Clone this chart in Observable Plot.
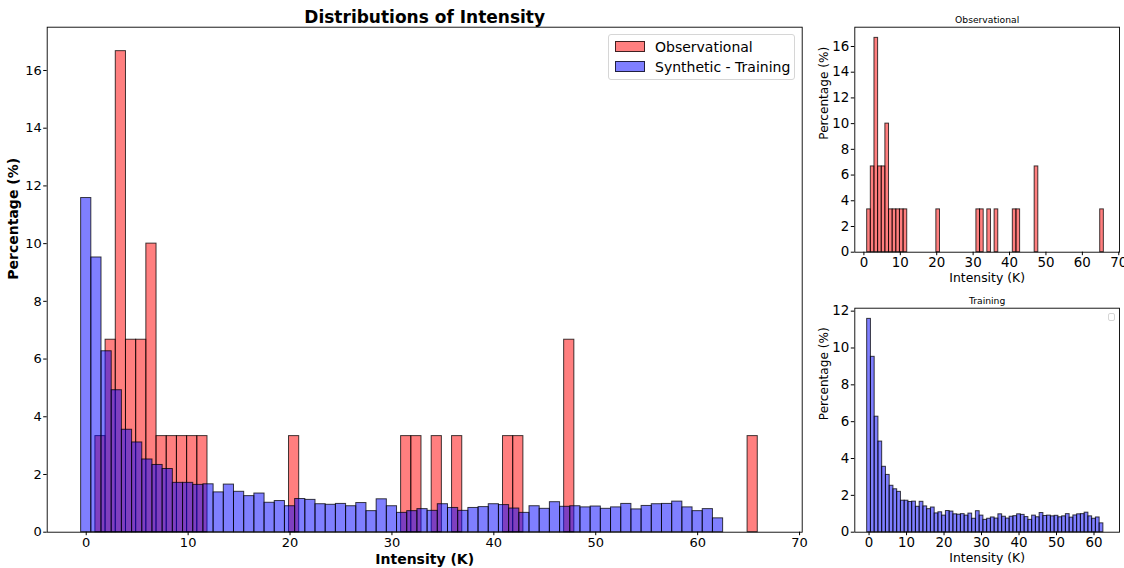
<!DOCTYPE html>
<html>
<head>
<meta charset="utf-8">
<script src="https://cdn.jsdelivr.net/npm/d3@7"></script>
<script src="https://cdn.jsdelivr.net/npm/@observablehq/plot@0.6"></script>
<style>
  html, body { margin: 0; padding: 0; background: #fff; }
  #wrap { position: relative; width: 1124px; height: 568px; overflow: hidden; font-family: "DejaVu Sans", sans-serif; }
  .panel { position: absolute; }
  .legend { position: absolute; left: 608px; top: 34px; width: 185px; height: 44px; border: 1px solid #d6d6d6; border-radius: 3px; background: rgba(255,255,255,0.8); }
  .sw { position: absolute; left: 6px; width: 28px; height: 9px; }
  .lt { position: absolute; left: 46px; font-size: 14px; line-height: 14px; color: #000; white-space: nowrap; }
  .emptyleg { position: absolute; left: 1108px; top: 313px; width: 5px; height: 6px; border: 1px solid #d6d6d6; border-radius: 2px; }
</style>
</head>
<body>
<div id="wrap"></div>
<script>
// ---- data ----
const binWidth = 1.0;
// Observational: bin centres (K) and percentage of samples
const obsBinMid = [1.4, 2.4, 3.4, 4.4, 5.4, 6.4, 7.4, 8.4, 9.4, 10.4, 11.4, 20.4, 31.4, 32.4, 34.4, 36.4, 41.4, 42.4, 47.4, 65.4];
const obsPct    = [3.33, 6.67, 16.67, 6.67, 6.67, 10.0, 3.33, 3.33, 3.33, 3.33, 3.33, 3.33, 3.33, 3.33, 3.33, 3.33, 3.33, 3.33, 6.67, 3.33];
// Synthetic - Training: bin centres (K) and percentage of samples
const synBinMid = [0, 1, 2, 3, 4, 5, 6, 7, 8, 9, 10, 11, 12, 13, 14, 15, 16, 17, 18, 19, 20,
                   21, 22, 23, 24, 25, 26, 27, 28, 29, 30, 31, 32, 33, 34, 35, 36, 37, 38, 39, 40,
                   41, 42, 43, 44, 45, 46, 47, 48, 49, 50, 51, 52, 53, 54, 55, 56, 57, 58, 59, 60, 61, 62];
const synPct    = [11.58, 9.52, 6.27, 4.92, 3.55, 3.11, 2.52, 2.33, 2.19, 1.71, 1.71, 1.64, 1.66, 1.38, 1.65, 1.40, 1.25, 1.34, 1.02, 1.08, 0.90,
                   1.15, 1.12, 0.97, 0.95, 0.98, 0.90, 1.01, 0.73, 1.14, 0.90, 0.67, 0.73, 0.80, 0.74, 0.97, 0.84, 0.74, 0.84, 0.87, 0.97,
                   0.94, 0.82, 0.67, 0.90, 0.81, 1.04, 0.88, 0.90, 0.86, 0.89, 0.81, 0.86, 0.98, 0.79, 0.91, 0.97, 0.98, 1.06, 0.86, 0.73, 0.80, 0.48];
const mainXTicks = [0, 10, 20, 30, 40, 50, 60, 70];
const mainYTicks = [0, 2, 4, 6, 8, 10, 12, 14, 16];
const obsXTicks = [0, 10, 20, 30, 40, 50, 60, 70];
const obsYTicks = [0, 2, 4, 6, 8, 10, 12, 14, 16];
const synXTicks = [0, 10, 20, 30, 40, 50, 60];
const synYTicks = [0, 2, 4, 6, 8, 10, 12];
const seriesNames = ["Observational", "Synthetic - Training"];

// ---- build tables ----
const obsRows = obsBinMid.map((m, i) => ({lo: m - binWidth / 2, hi: m + binWidth / 2, pct: obsPct[i]}));
const synRows = synBinMid.map((m, i) => ({lo: m - binWidth / 2, hi: m + binWidth / 2, pct: synPct[i]}));

const RED = "#ff0000", BLUE = "#0000ff";
const barStyle = {fillOpacity: 0.5, stroke: "#000", strokeOpacity: 0.75, strokeWidth: 1};
const baseStyle = {fontFamily: "DejaVu Sans, sans-serif", fontSize: "13px", background: "transparent", overflow: "visible", color: "#000"};
const panelStyle = {...baseStyle, fontSize: "13.4px"};

const wrapEl = document.getElementById("wrap");
function place(el, left, topPx) {
  const d = document.createElement("div");
  d.className = "panel";
  d.style.left = left + "px";
  d.style.top = topPx + "px";
  d.appendChild(el);
  wrapEl.appendChild(d);
}

// ---- main chart ----
const mainPlot = Plot.plot({
  width: 810, height: 568,
  marginLeft: 46.7, marginRight: 8.3, marginTop: 26.7, marginBottom: 36.3,
  style: baseStyle,
  x: {domain: [-3.83, 70.26], ticks: mainXTicks, tickSize: 3.5, tickPadding: 2, label: null},
  y: {domain: [0, 17.5], ticks: mainYTicks, tickSize: 3.5, tickPadding: 2, label: null},
  marks: [
    Plot.rect(obsRows, {x1: "lo", x2: "hi", y1: 0, y2: "pct", fill: RED, ...barStyle}),
    Plot.rect(synRows, {x1: "lo", x2: "hi", y1: 0, y2: "pct", fill: BLUE, ...barStyle}),
    Plot.frame({stroke: "#000", strokeWidth: 0.9}),
    Plot.text(["Distributions of Intensity"], {text: d => d, frameAnchor: "top", lineAnchor: "bottom", dy: -4.2, fontSize: 17, fontWeight: "bold"}),
    Plot.text(["Intensity (K)"], {text: d => d, frameAnchor: "bottom", lineAnchor: "bottom", dy: 31.6, fontSize: 14, fontWeight: "bold"}),
    Plot.text(["Percentage (%)"], {text: d => d, frameAnchor: "left", lineAnchor: "middle", rotate: -90, dx: -33.4, fontSize: 14, fontWeight: "bold"})
  ]
});
place(mainPlot, 0, 0);

// ---- observational panel ----
const obsPlot = Plot.plot({
  width: 314, height: 284,
  marginLeft: 44.3, marginRight: 5, marginTop: 26.7, marginBottom: 32.3,
  style: panelStyle,
  x: {domain: [-2.5, 70.2], ticks: obsXTicks, tickSize: 3.5, tickPadding: 2, label: null},
  y: {domain: [0, 17.5], ticks: obsYTicks, tickSize: 3.5, tickPadding: 2, label: null},
  marks: [
    Plot.rect(obsRows, {x1: "lo", x2: "hi", y1: 0, y2: "pct", fill: RED, ...barStyle}),
    Plot.frame({stroke: "#000", strokeWidth: 0.9}),
    Plot.text([seriesNames[0]], {text: d => d, frameAnchor: "top", lineAnchor: "bottom", dy: -4.3, fontSize: 9.2}),
    Plot.text(["Intensity (K)"], {text: d => d, frameAnchor: "bottom", lineAnchor: "bottom", dy: 29.6, fontSize: 12.4}),
    Plot.text(["Percentage (%)"], {text: d => d, frameAnchor: "left", lineAnchor: "middle", rotate: -90, dx: -31, fontSize: 12.1})
  ]
});
place(obsPlot, 810, 0);

// ---- training panel ----
const synPlot = Plot.plot({
  width: 314, height: 284,
  marginLeft: 44.3, marginRight: 5, marginTop: 23.7, marginBottom: 36.3,
  style: panelStyle,
  x: {domain: [-3.8, 66.8], ticks: synXTicks, tickSize: 3.5, tickPadding: 2, label: null},
  y: {domain: [0, 12.16], ticks: synYTicks, tickSize: 3.5, tickPadding: 2, label: null},
  marks: [
    Plot.rect(synRows, {x1: "lo", x2: "hi", y1: 0, y2: "pct", fill: BLUE, ...barStyle}),
    Plot.frame({stroke: "#000", strokeWidth: 0.9}),
    Plot.text(["Training"], {text: d => d, frameAnchor: "top", lineAnchor: "bottom", dy: -4.4, fontSize: 9.2}),
    Plot.text(["Intensity (K)"], {text: d => d, frameAnchor: "bottom", lineAnchor: "bottom", dy: 29.8, fontSize: 12.4}),
    Plot.text(["Percentage (%)"], {text: d => d, frameAnchor: "left", lineAnchor: "middle", rotate: -90, dx: -31, fontSize: 12.1})
  ]
});
place(synPlot, 810, 284);

// ---- legends ----
const leg = document.createElement("div");
leg.className = "legend";
[["rgba(255,0,0,0.5)", 6, 7], ["rgba(0,0,255,0.5)", 26, 27]].forEach(([c, sy, ty], i) => {
  const sw = document.createElement("div");
  sw.className = "sw";
  sw.style.top = sy + "px";
  sw.style.background = c;
  sw.style.border = "1px solid rgba(0,0,0,0.75)";
  leg.appendChild(sw);
  const t = document.createElement("div");
  t.className = "lt";
  t.style.top = (ty - 2.5) + "px";
  t.textContent = seriesNames[i];
  leg.appendChild(t);
});
wrapEl.appendChild(leg);
const emp = document.createElement("div");
emp.className = "emptyleg";
wrapEl.appendChild(emp);
</script>
</body>
</html>
